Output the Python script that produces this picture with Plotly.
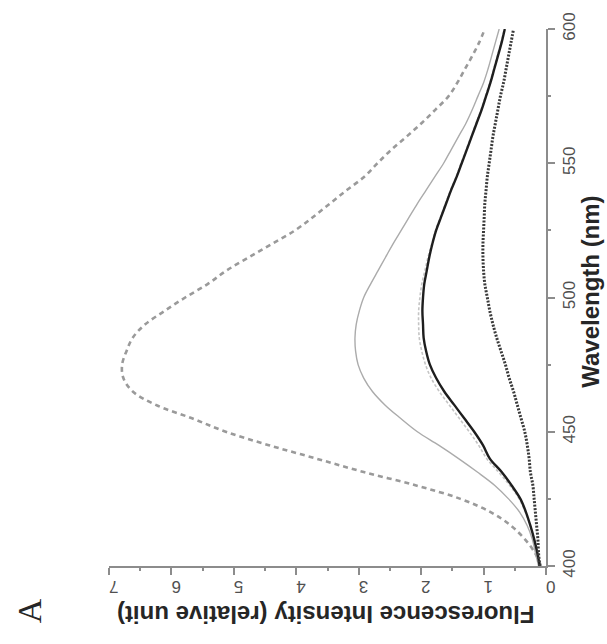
import plotly.graph_objects as go

# Emission wavelength grid (nm)
wavelength = [400, 405, 410, 415, 420, 425, 430, 435, 440, 445, 450, 455, 460, 465,
              470, 475, 480, 485, 490, 495, 500, 505, 510, 515, 520, 525, 530, 535,
              540, 545, 550, 555, 560, 565, 570, 575, 580, 585, 590, 595, 600]

# Fluorescence intensity (relative unit) for each sample
dashed_high = [0.08, 0.18, 0.34, 0.56, 0.88, 1.37, 2.08, 2.92, 3.68, 4.44, 5.13, 5.67,
               6.25, 6.62, 6.77, 6.79, 6.72, 6.62, 6.42, 6.11, 5.78, 5.42, 5.12, 4.76,
               4.39, 4.02, 3.73, 3.46, 3.19, 2.91, 2.70, 2.48, 2.23, 1.99, 1.77, 1.56,
               1.42, 1.30, 1.18, 1.07, 0.98]

thin_gray = [0.12, 0.17, 0.22, 0.30, 0.42, 0.60, 0.82, 1.10, 1.40, 1.72, 2.06, 2.33,
             2.58, 2.78, 2.92, 3.01, 3.05, 3.06, 3.04, 2.99, 2.92, 2.81, 2.69, 2.57,
             2.45, 2.32, 2.19, 2.06, 1.92, 1.78, 1.64, 1.52, 1.40, 1.28, 1.18, 1.09,
             1.00, 0.93, 0.87, 0.81, 0.75]

faint_gray = [0.10, 0.14, 0.19, 0.25, 0.33, 0.43, 0.58, 0.76, 0.95, 1.08, 1.23, 1.39,
              1.55, 1.71, 1.84, 1.93, 1.99, 2.03, 2.04, 2.04, 2.02, 1.99, 1.94, 1.89,
              1.83, 1.77, 1.69, 1.61, 1.53, 1.44, 1.36, 1.28, 1.20, 1.12, 1.04, 0.97,
              0.90, 0.84, 0.78, 0.72, 0.67]

black_solid = [0.10, 0.14, 0.19, 0.25, 0.32, 0.41, 0.55, 0.71, 0.90, 1.01, 1.15, 1.31,
               1.47, 1.63, 1.76, 1.86, 1.92, 1.96, 1.97, 1.98, 1.97, 1.95, 1.91, 1.87,
               1.82, 1.76, 1.68, 1.60, 1.52, 1.43, 1.35, 1.27, 1.19, 1.11, 1.03, 0.96,
               0.89, 0.83, 0.77, 0.71, 0.66]

black_dotted = [0.10, 0.12, 0.13, 0.15, 0.17, 0.19, 0.21, 0.25, 0.27, 0.30, 0.34, 0.40,
                0.46, 0.52, 0.59, 0.65, 0.72, 0.79, 0.85, 0.90, 0.94, 0.98, 1.00, 1.01,
                1.01, 1.00, 0.99, 0.98, 0.96, 0.94, 0.91, 0.88, 0.85, 0.81, 0.77, 0.73,
                0.68, 0.64, 0.60, 0.56, 0.52]

intensity_ticks = [0, 1, 2, 3, 4, 5, 6, 7]
wavelength_ticks = [400, 450, 500, 550, 600]

SANS = "Liberation Sans, Arial, sans-serif"

fig = go.Figure()

# Spectra are drawn rotated: intensity runs horizontally (0 on the right),
# wavelength runs vertically (400 nm at the bottom).
series = [
    (dashed_high, dict(color="#9a9a9a", width=2.6, dash="5px,4px")),
    (thin_gray, dict(color="#ababab", width=1.4)),
    (faint_gray, dict(color="#c4c4c4", width=1.6, dash="3px,2px")),
    (black_solid, dict(color="#1e1e1e", width=2.4)),
    (black_dotted, dict(color="#3a3a3a", width=3.0, dash="2px,1.5px")),
]
for values, line in series:
    fig.add_trace(go.Scatter(x=values, y=wavelength, mode="lines",
                             line=dict(shape="spline", **line),
                             showlegend=False, hoverinfo="skip"))

axis_color = "#8c8c8c"

fig.update_xaxes(
    range=[7, 0], tickvals=intensity_ticks, ticktext=[str(v) for v in intensity_ticks],
    tickangle=180, showline=True, linecolor=axis_color, linewidth=2,
    ticks="outside", ticklen=7, tickwidth=1.5, tickcolor=axis_color,
    ticklabelstandoff=3,
    minor=dict(dtick=0.5, tick0=0, ticks="outside", ticklen=3, tickwidth=1.5,
               tickcolor=axis_color),
    showgrid=False, zeroline=False,
    tickfont=dict(family=SANS, size=17, color="#505050"),
)
fig.update_yaxes(
    range=[400, 600], side="right", tickvals=wavelength_ticks,
    ticktext=[str(v) for v in wavelength_ticks], tickangle=-90,
    showline=True, linecolor=axis_color, linewidth=2,
    ticks="outside", ticklen=7, tickwidth=1.5, tickcolor=axis_color,
    minor=dict(dtick=25, tick0=400, ticks="outside", ticklen=3, tickwidth=1.5,
               tickcolor=axis_color),
    showgrid=False, zeroline=False,
    tickfont=dict(family=SANS, size=17, color="#505050"),
)

fig.add_annotation(text="<b>Fluorescence Intensity (relative unit)</b>",
                   xref="paper", yref="paper", x=0.497, y=-0.089,
                   xanchor="center", yanchor="middle",
                   showarrow=False, textangle=180,
                   font=dict(family=SANS, size=24, color="#262626"))
fig.add_annotation(text="<b>Wavelength (nm)</b>",
                   xref="paper", yref="paper", x=1.10, y=0.51,
                   xanchor="center", yanchor="middle",
                   showarrow=False, textangle=-90,
                   font=dict(family=SANS, size=24, color="#262626"))
fig.add_annotation(text="A", xref="paper", yref="paper", x=-0.183, y=-0.084,
                   xanchor="center", yanchor="middle",
                   showarrow=False, textangle=-90,
                   font=dict(family="Liberation Serif, Times New Roman, serif",
                             size=34, color="#262626"))

fig.update_layout(
    width=607, height=644,
    margin=dict(l=109, r=61, t=23, b=78),
    paper_bgcolor="white", plot_bgcolor="white",
)

fig.write_html("out.html")
